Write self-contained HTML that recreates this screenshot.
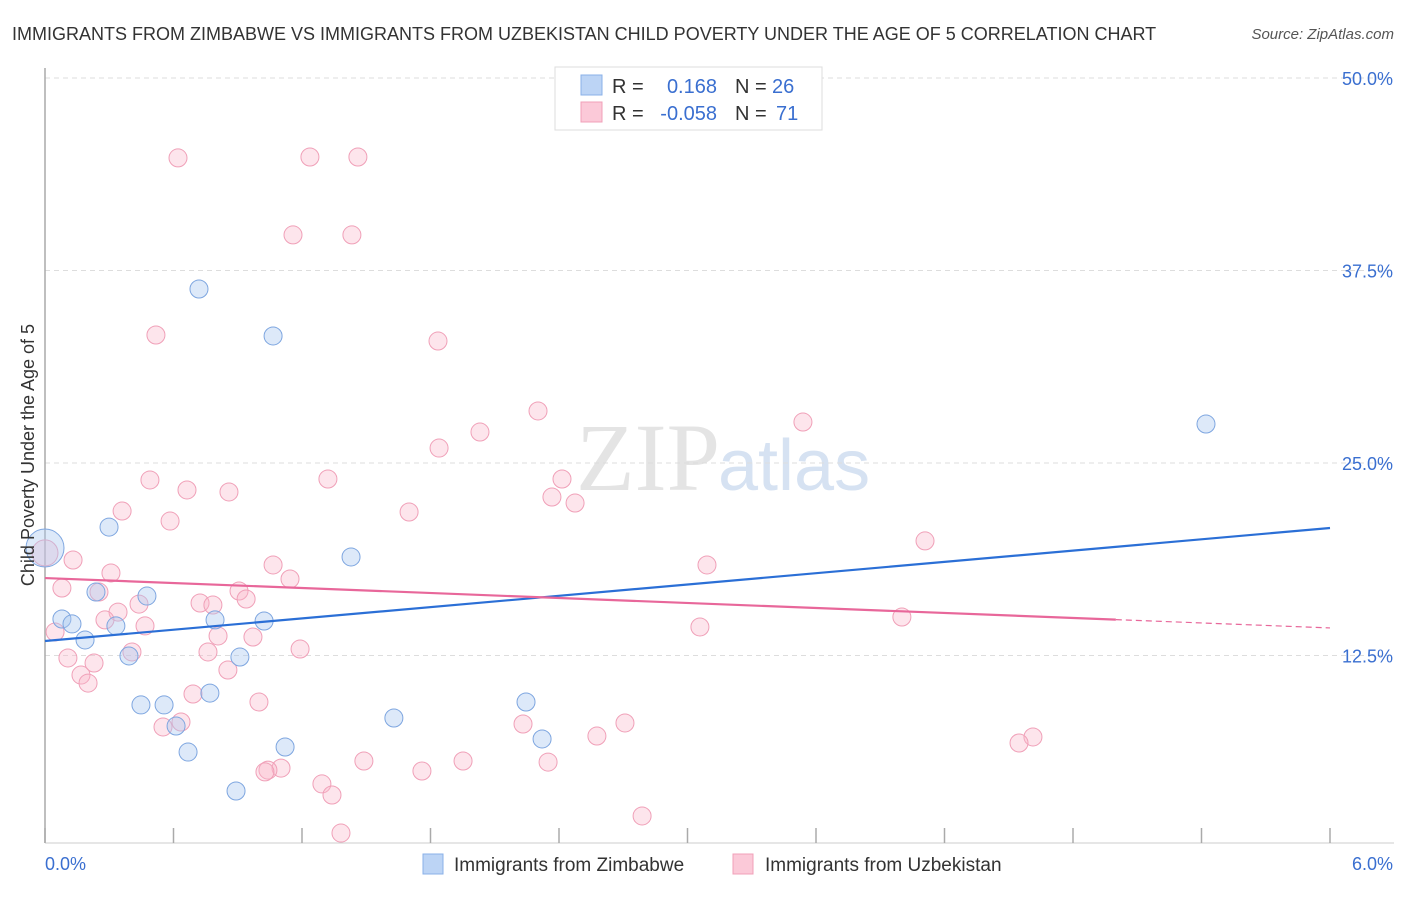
<!DOCTYPE html>
<html><head><meta charset="utf-8"><style>
body{margin:0;background:#fff;font-family:"Liberation Sans",sans-serif;}
</style></head><body>
<svg id="chart" width="1406" height="892" xmlns="http://www.w3.org/2000/svg" font-family="Liberation Sans, sans-serif">
<text x="12" y="40" font-size="18" fill="#333">IMMIGRANTS FROM ZIMBABWE VS IMMIGRANTS FROM UZBEKISTAN CHILD POVERTY UNDER THE AGE OF 5 CORRELATION CHART</text>
<text x="1394" y="39" font-size="15" fill="#555" font-style="italic" text-anchor="end">Source: ZipAtlas.com</text>
<text x="720" y="490" font-size="96" fill="#e4e4e4" text-anchor="end" font-family="Liberation Serif, serif">ZIP</text>
<text x="718" y="490" font-size="72" fill="#d6e2f2">atlas</text>
<g id="grid"></g>
<g id="axes"></g>
<g id="marks"></g>
<text transform="translate(34,455) rotate(-90)" font-size="18" fill="#333" text-anchor="middle">Child Poverty Under the Age of 5</text>
<g>
<rect x="555" y="67" width="267" height="63" fill="#fff" stroke="#ddd"/>
<rect x="581" y="75" width="21" height="20" fill="#bcd4f5" stroke="#8ab0e8"/>
<rect x="581" y="102" width="21" height="20" fill="#fbc9d8" stroke="#f0a0b8"/>
<text x="612" y="93" font-size="20" fill="#333">R =</text>
<text x="717" y="93" font-size="20" fill="#3a6fd0" text-anchor="end">0.168</text>
<text x="735" y="93" font-size="20" fill="#333">N =</text>
<text x="772" y="93" font-size="20" fill="#3a6fd0">26</text>
<text x="612" y="120" font-size="20" fill="#333">R =</text>
<text x="717" y="120" font-size="20" fill="#3a6fd0" text-anchor="end">-0.058</text>
<text x="735" y="120" font-size="20" fill="#333">N =</text>
<text x="776" y="120" font-size="20" fill="#3a6fd0">71</text>
</g>
<g>
<rect x="423" y="854" width="20" height="20" fill="#bcd4f5" stroke="#8ab0e8"/>
<text x="454" y="871" font-size="19" fill="#333">Immigrants from Zimbabwe</text>
<rect x="733" y="854" width="20" height="20" fill="#fbc9d8" stroke="#f0a0b8"/>
<text x="765" y="871" font-size="19" fill="#333">Immigrants from Uzbekistan</text>
</g>
</svg>
<script>
const blueX=[0,0.079,0.126,0.187,0.238,0.299,0.331,0.392,0.476,0.448,0.556,0.612,0.668,0.719,0.770,0.794,0.892,0.910,1.023,1.065,1.121,1.429,1.629,2.246,2.321,5.421];
const blueY=[19.48,14.87,14.55,13.51,16.62,20.84,14.42,12.47,16.36,9.29,9.29,7.92,6.23,36.30,10.06,14.81,3.70,12.40,14.74,33.25,6.56,18.90,8.44,9.48,7.08,27.53];
const pinkX=[0.621,1.237,1.461,1.158,1.433,0.518,1.835,2.302,3.539,2.031,1.840,0.490,0.663,0.859,1.321,2.414,2.367,2.475,0.360,1.700,0.584,4.109,0,0.131,0.308,1.065,3.091,1.144,0.079,0.252,0.906,0.939,0.439,0.724,0.784,0.341,0.280,0.467,4.001,3.058,0.047,0.808,0.971,0.406,1.191,0.107,0.761,0.229,0.854,0.168,0.201,0.691,0.999,0.635,0.551,2.232,2.708,2.577,4.613,4.548,1.489,1.952,2.349,1.102,1.041,1.027,1.760,1.293,1.340,2.788,1.382];
const pinkY=[44.81,44.87,44.87,39.81,39.81,33.31,32.92,28.38,27.66,27.01,25.97,23.90,23.25,23.12,23.96,23.96,22.79,22.40,21.88,21.82,21.23,19.94,19.16,18.70,17.86,18.38,18.38,17.47,16.88,16.62,16.69,16.17,15.84,15.91,15.78,15.32,14.81,14.42,15.00,14.35,14.03,13.77,13.70,12.73,12.92,12.34,12.73,12.01,11.56,11.23,10.71,10.00,9.48,8.18,7.86,8.05,8.12,7.27,7.21,6.82,5.65,5.65,5.58,5.19,5.06,4.94,5.00,4.16,3.44,2.08,0.97];
const blueTrend=[13.44,20.78];
const pinkTrend=[17.53,14.29];
const yTicks=[12.5,25,37.5,50];
const yTickLabels=["12.5%","25.0%","37.5%","50.0%"];
const xTicks=[0,0.6,1.2,1.8,2.4,3.0,3.6,4.2,4.8,5.4,6.0];
const xTickLabels=["0.0%","6.0%"];
const NS="http://www.w3.org/2000/svg";
const sx=v=>45+v*1285/6;
const sy=v=>848-v*770/50;
function mk(tag,parent,attrs){const e=document.createElementNS(NS,tag);for(const k in attrs)e.setAttribute(k,attrs[k]);document.getElementById(parent).appendChild(e);return e;}
yTicks.forEach((t,i)=>{
 const g=mk('line','grid',{x1:45,x2:1394,y1:sy(t),y2:sy(t),stroke:'#ddd','stroke-dasharray':'5,4'});
 
 
 const l=mk('text','grid',{x:1393,y:sy(t)+7,'font-size':18,fill:'#3a6fd0','text-anchor':'end'});
 l.textContent=yTickLabels[i];
 
 
});
const ya=mk('line','axes',{x1:45,x2:45,y1:68,y2:843,stroke:'#aaa','stroke-width':1.5});


const xa=mk('line','axes',{x1:45,x2:1394,y1:843,y2:843,stroke:'#ccc'});


xTicks.forEach(t=>{
 const tk=mk('line','axes',{x1:sx(t),x2:sx(t),y1:828,y2:843,stroke:'#aaa','stroke-width':1.5});
 
 
});
const xl0=mk('text','axes',{x:45,y:870,'font-size':18,fill:'#3a6fd0'});
xl0.textContent=xTickLabels[0];


const xl1=mk('text','axes',{x:1393,y:870,'font-size':18,fill:'#3a6fd0','text-anchor':'end'});
xl1.textContent=xTickLabels[1];


pinkX.forEach((x,i)=>{
 const c=mk('circle','marks',{cx:sx(x),cy:sy(pinkY[i]),r:i===22?13:9,fill:'rgba(248,180,200,0.35)',stroke:'#f0a0b8','stroke-width':1});
 
 
});
blueX.forEach((x,i)=>{
 const c=mk('circle','marks',{cx:sx(x),cy:sy(blueY[i]),r:i===0?19:9,fill:'rgba(170,200,240,0.4)',stroke:'#7ea6e0','stroke-width':1});
 
 
});
const bt=mk('line','marks',{x1:sx(0),x2:sx(6),y1:sy(blueTrend[0]),y2:sy(blueTrend[1]),stroke:'#2b6fd6','stroke-width':2.2});


const pm=pinkTrend[0]+(pinkTrend[1]-pinkTrend[0])*(5/6);
const pt=mk('line','marks',{x1:sx(0),x2:sx(5),y1:sy(pinkTrend[0]),y2:sy(pm),stroke:'#e8679a','stroke-width':2.2});


const pd=mk('line','marks',{x1:sx(5),x2:sx(6),y1:sy(pm),y2:sy(pinkTrend[1]),stroke:'#e8679a','stroke-width':1.2,'stroke-dasharray':'6,4'});


</script>
</body></html>
